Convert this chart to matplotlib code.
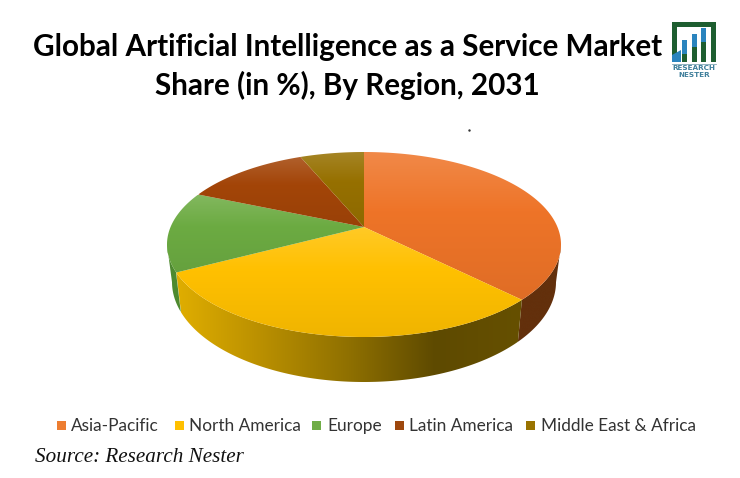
import numpy as np
import matplotlib
matplotlib.use("Agg")
import matplotlib.pyplot as plt
from matplotlib.patches import Polygon, Rectangle
from matplotlib.colors import LinearSegmentedColormap, to_rgb

regions = ["Asia-Pacific", "North America", "Europe", "Latin America", "Middle East & Africa"]
shares = [37.5, 29.8, 14.1, 12.3, 6.3]
colors = ["#ED7D31", "#FFC000", "#70AD47", "#9E480E", "#997300"]
top_colors = ["#EE7428", "#FFC000", "#6CAB42", "#A34508", "#967000"]
wall_stops = [
    ["#63300C", "#63300C"],
    ["#E0AE00", "#B98F00", "#8F7000", "#5E4A00", "#665000"],
    ["#4E8A30", "#4E8A30"],
    ["#6E3209", "#6E3209"],
    ["#6B5000", "#6B5000"],
]
legend_square_x = [57, 175, 312, 395, 526]
legend_text_x = [71, 189, 327, 409, 541]

fig = plt.figure(figsize=(7.4, 4.78), dpi=100)
ax = fig.add_axes([0, 0, 1, 1])
ax.set_axis_off()

CX, CY, RX, RY = 364.0, 244.5, 197.0, 92.5
BY, BRX, BRY = 282.0, 192.0, 100.0
A = 0.189


def rim(angle):
    """Angle clockwise from the back of the pie -> point on the perspective top ellipse."""
    u, v = np.sin(angle), np.cos(angle)
    den = 1 + A * v
    return CX + RX * u * np.sqrt(1 - A * A) / den, CY - RY * (v + A) / den


def bottom_for(x, y):
    xn = np.clip((x - CX) / RX, -1, 1)
    return CX + BRX * xn, BY + BRY * np.sqrt(1 - xn * xn)


def mix(c, other, f):
    c, other = np.array(to_rgb(c)), np.array(to_rgb(other))
    return tuple(c * (1 - f) + other * f)


def fill(poly, cmap, extent, horizontal=False):
    g = np.linspace(0, 1, 256)
    data = g[None, :] if horizontal else g[:, None]
    im = ax.imshow(data, cmap=cmap, extent=extent, aspect="auto", origin="upper",
                   vmin=0, vmax=1, interpolation="bilinear", zorder=2)
    patch = Polygon(poly, closed=True, transform=ax.transData, fc="none", ec="none")
    ax.add_patch(patch)
    im.set_clip_path(patch)


edges = np.cumsum([0] + shares) / sum(shares) * 2 * np.pi
apex = np.array([CX, CY - RY * A])

# side wall, only where the rim faces the viewer
rim_t = np.linspace(0, 2 * np.pi, 1441)
rx_all, ry_all = rim(rim_t)
for i in range(len(shares)):
    mask = (rim_t >= edges[i]) & (rim_t <= edges[i + 1]) & (ry_all >= CY - 0.01)
    if mask.sum() < 2:
        continue
    tx, ty = rx_all[mask], ry_all[mask]
    bx, by = zip(*[bottom_for(x, y) for x, y in zip(tx, ty)])
    poly = np.column_stack([np.r_[tx, bx[::-1]], np.r_[ty, by[::-1]]])
    cmap = LinearSegmentedColormap.from_list("w%d" % i, wall_stops[i])
    fill(poly, cmap, (poly[:, 0].min(), poly[:, 0].max(), 400, 140), horizontal=True)

# top faces, each with its own vertical gradient
for i, c in enumerate(top_colors):
    t = np.linspace(edges[i], edges[i + 1], 240)
    x, y = rim(t)
    poly = np.vstack([apex, np.column_stack([x, y])])
    cmap = LinearSegmentedColormap.from_list(
        "t%d" % i, [(0, mix(c, "white", 0.15)), (0.4, c), (1, mix(c, "black", 0.06))])
    fill(poly, cmap, (poly[:, 0].min(), poly[:, 0].max(), poly[:, 1].max(), poly[:, 1].min()))

# title
title_font = dict(family="Lato", weight="bold", color="black", ha="center", va="center")
ax.text(348, 47, "Global Artificial Intelligence as a Service Market", fontsize=21.3, **title_font)
ax.text(347.5, 85, "Share (in %), By Region, 2031", fontsize=21.3, **title_font)
ax.plot([469], [130], marker="s", ms=0.7, color="#333333", zorder=3)

# legend
for name, c, sx, tx in zip(regions, colors, legend_square_x, legend_text_x):
    ax.add_patch(Rectangle((sx, 421), 9, 9, fc=c, ec="none", zorder=3))
    ax.text(tx, 426, name, family="Lato", fontsize=12.4, color="#333333", ha="left", va="center")

ax.text(35, 457, "Source: Research Nester", family="Liberation Serif", style="italic",
        fontsize=15.2, color="#111111", ha="left", va="center")

# logo
green, blue = "#1E5E30", "#2A84BE"
ax.add_patch(Polygon([(672, 22), (716, 22), (716, 62), (711, 62), (711, 27), (677, 27), (677, 62), (672, 62)],
                     fc=green, ec="none", zorder=3))
ax.add_patch(Polygon([(672, 62), (672, 55), (681, 50), (681, 62)], fc=blue, ec="none", zorder=3))
for x0, top in [(682, 40), (692, 34), (701, 28)]:
    mid = 62 - (x0 + 2.5 - 672) * 0.65
    ax.add_patch(Rectangle((x0, top), 5, mid - top, fc=blue, ec="none", zorder=3))
    ax.add_patch(Rectangle((x0, mid), 5, 62 - mid, fc=green, ec="none", zorder=3))
ax.plot([672, 716], [64, 64], color="#7FA6B5", lw=0.6, zorder=3)
ax.text(694, 68, "RESEARCH", family="DejaVu Sans", weight="bold", fontsize=5.2, color="#3F7F9B",
        ha="center", va="center")
ax.text(694, 75, "NESTER", family="DejaVu Sans", weight="bold", fontsize=5.2, color="#3F7F9B",
        ha="center", va="center")

ax.set_xlim(0, 740)
ax.set_ylim(478, 0)
fig.savefig("out.png", dpi=100)
